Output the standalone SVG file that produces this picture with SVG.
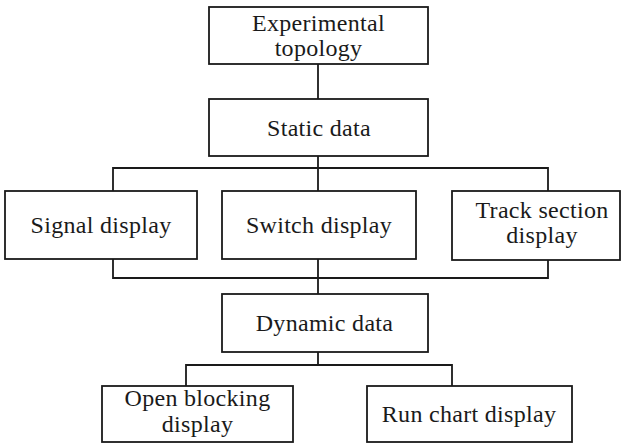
<svg xmlns="http://www.w3.org/2000/svg" width="624" height="444" viewBox="0 0 624 444">
  <style>
    .box { fill: #ffffff; stroke: #1a1a1a; stroke-width: 1.8; }
    .wire { fill: none; stroke: #1a1a1a; stroke-width: 1.8; }
    text { font-size: 24px; fill: #1a1a1a; text-anchor: middle; letter-spacing: 0.3px; }
  </style>
  <rect width="624" height="444" fill="#ffffff"/>

  <!-- connectors -->
  <g id="connectors">
    <path class="wire" d="M318 64 V99"/>
    <path class="wire" d="M318 156 V191 M113 191 V168 H548 V191"/>
    <path class="wire" d="M113 259 V278 H548 V260 M318 259 V294"/>
    <path class="wire" d="M318 352 V365 M186 386 V365 H452 V386"/>
  </g>

  <g font-family="Liberation Serif, Times New Roman, serif">
    <g id="experimental-topology">
      <rect class="box" x="209" y="7" width="219" height="57"/>
      <text x="318.5" y="31">Experimental</text>
      <text x="318.5" y="56">topology</text>
    </g>

    <g id="static-data">
      <rect class="box" x="209" y="99" width="219" height="57"/>
      <text x="319" y="136">Static data</text>
    </g>

    <g id="signal-display">
      <rect class="box" x="5" y="191" width="192" height="68"/>
      <text x="101" y="233">Signal display</text>
    </g>

    <g id="switch-display">
      <rect class="box" x="222" y="191" width="194" height="68"/>
      <text x="319" y="233">Switch display</text>
    </g>

    <g id="track-section-display">
      <rect class="box" x="452" y="191" width="168" height="69"/>
      <text x="542" y="218">Track section</text>
      <text x="542" y="243">display</text>
    </g>

    <g id="dynamic-data">
      <rect class="box" x="222" y="294" width="206" height="58"/>
      <text x="324.5" y="331">Dynamic data</text>
    </g>

    <g id="open-blocking-display">
      <rect class="box" x="102" y="386" width="191" height="56"/>
      <text x="197.5" y="406">Open blocking</text>
      <text x="197.5" y="432">display</text>
    </g>

    <g id="run-chart-display">
      <rect class="box" x="367" y="386" width="205" height="56"/>
      <text x="469" y="422">Run chart display</text>
    </g>
  </g>
</svg>
